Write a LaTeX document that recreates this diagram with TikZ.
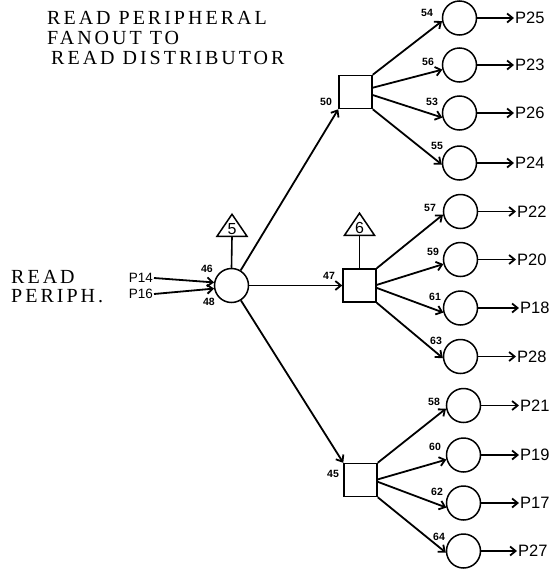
\documentclass[tikz,border=0pt]{standalone}
\usepackage{fontspec}
\setmainfont{Liberation Serif}
\setsansfont{Liberation Sans}
\newfontfamily\spacedserif[LetterSpace=15]{Liberation Serif}
\usetikzlibrary{arrows.meta,shapes.geometric}

\tikzset{
  wire/.style={line width=1.8pt, -{Straight Barb[length=5.5pt,width=9pt]}},
  stub/.style={line width=1.6pt},
  gate/.style={draw, line width=1.5pt, circle, minimum size=34pt, inner sep=0pt},
  sqbox/.style={draw, line width=1.5pt, minimum size=33pt, inner sep=0pt},
  tri/.style={draw, line width=1.5pt, isosceles triangle, shape border rotate=90,
    isosceles triangle stretches, minimum width=30pt, minimum height=22pt,
    inner sep=0pt, anchor=south, font=\sffamily\fontsize{16}{16}\selectfont},
  pinno/.style={font=\sffamily\bfseries\fontsize{10.5}{11}\selectfont, inner sep=0pt},
  outlabel/.style={anchor=west, inner sep=1pt, font=\sffamily\fontsize{16.5}{16}\selectfont},
  inlabel/.style={anchor=east, inner sep=1pt, font=\sffamily\fontsize{13.5}{13}\selectfont},
}

\begin{document}
\begin{tikzpicture}[x=1pt, y=-1pt]
\useasboundingbox (0,0) rectangle (552,571);

% Titles
\node[anchor=west, align=left, inner sep=0pt, font=\spacedserif\fontsize{20}{20}\selectfont]
  (title) at (47,38) {READ PERIPHERAL\\FANOUT TO\\\hspace*{4pt}READ DISTRIBUTOR};
\node[anchor=west, align=left, inner sep=0pt, font=\spacedserif\fontsize{20}{19}\selectfont]
  (side) at (11,287) {READ\\PERIPH.};

% Fanout gate and distributors
\node[gate] (main) at (231.5,285.5) {};
\node[tri] (t5) at (232,237) {5};
\node[sqbox] (sqA) at (355.5,92) {};
\node[sqbox] (sqB) at (359.5,285.5) {};
\node[sqbox] (sqC) at (360.5,480) {};
\node[tri] (t6) at (359.5,236) {6};

% Output gates
\node[gate] (a1) at (459.5,18) {};
\node[gate] (a2) at (459.5,65) {};
\node[gate] (a3) at (459.5,113) {};
\node[gate] (a4) at (459.5,163) {};
\node[gate] (b1) at (460.5,211.5) {};
\node[gate] (b2) at (460.5,259.5) {};
\node[gate] (b3) at (460.5,308) {};
\node[gate] (b4) at (460.5,356.5) {};
\node[gate] (c1) at (463.5,405.5) {};
\node[gate] (c2) at (463.5,455) {};
\node[gate] (c3) at (463.5,503) {};
\node[gate] (c4) at (463.5,551) {};

% Line names
\node[inlabel] (p14) at (154,278) {P14};
\node[inlabel] (p16) at (154,294) {P16};
\node[outlabel] (p25) at (514,18) {P25};
\node[outlabel] (p23) at (514,65) {P23};
\node[outlabel] (p26) at (514,113) {P26};
\node[outlabel] (p24) at (514,163) {P24};
\node[outlabel] (p22) at (516,211.5) {P22};
\node[outlabel] (p20) at (516,259.5) {P20};
\node[outlabel] (p18) at (519,308) {P18};
\node[outlabel] (p28) at (516,356.5) {P28};
\node[outlabel] (p21) at (519,405.5) {P21};
\node[outlabel] (p19) at (519,455) {P19};
\node[outlabel] (p17) at (519,503) {P17};
\node[outlabel] (p27) at (517,551) {P27};

% Pin numbers
\node[pinno] (n46) at (207,269) {46};
\node[pinno] (n48) at (209,302) {48};
\node[pinno] (n50) at (326,102) {50};
\node[pinno] (n47) at (329,276) {47};
\node[pinno] (n45) at (333,474) {45};
\node[pinno] (n54) at (427,13) {54};
\node[pinno] (n56) at (428,62) {56};
\node[pinno] (n53) at (432,102) {53};
\node[pinno] (n55) at (437,146) {55};
\node[pinno] (n57) at (430,208) {57};
\node[pinno] (n59) at (433,252) {59};
\node[pinno] (n61) at (435,297) {61};
\node[pinno] (n63) at (436,341) {63};
\node[pinno] (n58) at (434,402) {58};
\node[pinno] (n60) at (435,447) {60};
\node[pinno] (n62) at (437,492) {62};
\node[pinno] (n64) at (439,537) {64};

% Inputs
\draw[wire] (p14.east) -- (main.170);
\draw[wire] (p16.east) -- (main.190);

% Fanout
\draw[stub] (t5.south) -- (main.north);
\draw[stub] (t6.south) -- (sqB.north);
\draw[wire] (main) -- (sqA.south west);
\draw[wire] (main) -- (sqB.west);
\draw[wire] (main) -- (sqC.north west);

% Distributor A
\draw[wire] (sqA.north east) -- (a1.190);
\draw[wire] (sqA.14) -- (a2.195);
\draw[wire] (sqA.-10) -- (a3.195);
\draw[wire] (sqA.south east) -- (a4.185);

% Distributor B
\draw[wire] (sqB.north east) -- (b1.190);
\draw[wire] (sqB.2) -- (b2.195);
\draw[wire] (sqB.-8) -- (b3.195);
\draw[wire] (sqB.south east) -- (b4.185);

% Distributor C
\draw[wire] (sqC.north east) -- (c1.190);
\draw[wire] (sqC.2) -- (c2.195);
\draw[wire] (sqC.-6) -- (c3.195);
\draw[wire] (sqC.south east) -- (c4.185);

% Outputs
\draw[wire] (a1.east) -- (p25.west);
\draw[wire] (a2.east) -- (p23.west);
\draw[wire] (a3.east) -- (p26.west);
\draw[wire] (a4.east) -- (p24.west);
\draw[wire] (b1.east) -- (p22.west);
\draw[wire] (b2.east) -- (p20.west);
\draw[wire] (b3.east) -- (p18.west);
\draw[wire] (b4.east) -- (p28.west);
\draw[wire] (c1.east) -- (p21.west);
\draw[wire] (c2.east) -- (p19.west);
\draw[wire] (c3.east) -- (p17.west);
\draw[wire] (c4.east) -- (p27.west);

\end{tikzpicture}
\end{document}
